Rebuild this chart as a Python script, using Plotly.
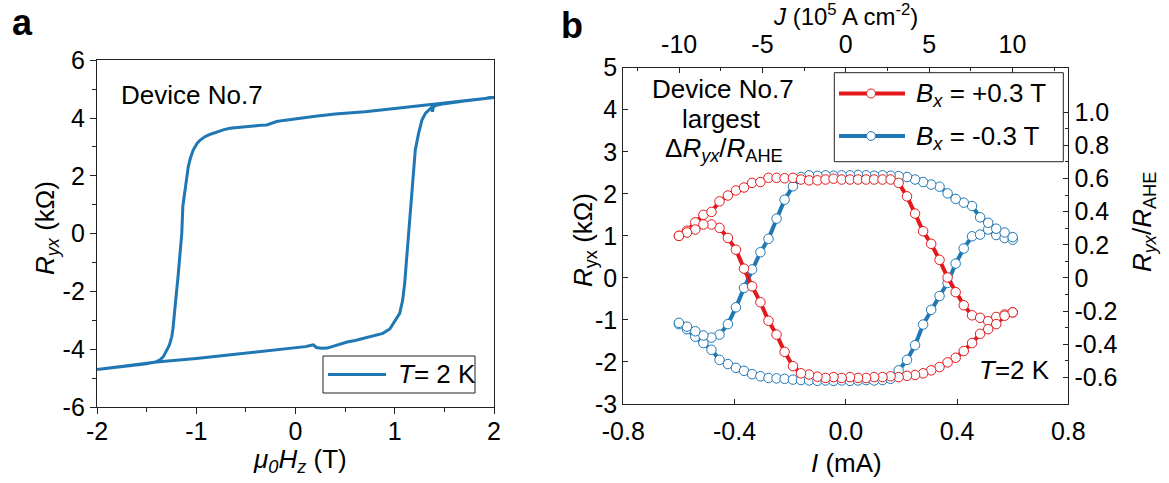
import plotly.graph_objects as go

# ---------------- data ----------------
# Panel a: anomalous Hall loop, R_yx (kOhm) vs mu0*Hz (T)
H_down = [2.0, 1.8, 1.5, 1.2, 1.0, 0.7, 0.4, 0.2, 0.0, -0.05,
          -0.12, -0.19, -0.25, -0.29, -0.35, -0.42, -0.5, -0.58, -0.66, -0.72,
          -0.79, -0.85, -0.91, -0.96, -0.99, -1.03, -1.06, -1.08, -1.095, -1.106,
          -1.12, -1.13, -1.135, -1.146, -1.16, -1.17, -1.185, -1.197, -1.21, -1.22,
          -1.235, -1.247, -1.27, -1.297, -1.33, -1.365, -1.40, -1.5, -1.7, -2.0]
R_down = [4.71, 4.63, 4.52, 4.40, 4.33, 4.22, 4.14, 4.06, 3.98, 3.97,
          3.92, 3.88, 3.80, 3.76, 3.75, 3.73, 3.70, 3.68, 3.65, 3.60,
          3.53, 3.45, 3.36, 3.24, 3.13, 2.90, 2.60, 2.32, 1.95, 1.63,
          1.20, 0.99, 0.95, 0.00, -0.60, -1.14, -1.55, -1.95, -2.45, -2.87,
          -3.30, -3.57, -3.85, -4.03, -4.25, -4.37, -4.43, -4.50, -4.58, -4.70]
H_up = [-2.0, -1.7, -1.4, -1.0, -0.5, -0.2, 0.0, 0.1, 0.15, 0.18,
        0.21, 0.26, 0.32, 0.38, 0.45, 0.52, 0.6, 0.7, 0.8, 0.88,
        0.95, 1.0, 1.05, 1.08, 1.10, 1.116, 1.14, 1.163, 1.183, 1.207,
        1.24, 1.274, 1.31, 1.36, 1.37, 1.38, 1.39, 1.42, 1.5, 1.7, 2.0]
R_up = [-4.70, -4.57, -4.44, -4.32, -4.14, -4.04, -3.97, -3.91, -3.87, -3.85,
        -3.94, -3.97, -3.96, -3.90, -3.82, -3.75, -3.70, -3.62, -3.53, -3.45,
        -3.30, -3.05, -2.76, -2.30, -1.72, -1.03, 0.00, 1.17, 2.09, 2.90,
        3.47, 3.93, 4.17, 4.34, 4.36, 4.22, 4.40, 4.44, 4.50, 4.59, 4.71]

# Panel b: current-induced switching, R_yx (kOhm) vs I (mA)
I_sweep = [-0.600, -0.571, -0.541, -0.512, -0.483, -0.454, -0.424, -0.395, -0.366, -0.337,
           -0.307, -0.278, -0.249, -0.220, -0.190, -0.161, -0.132, -0.102, -0.073, -0.044,
           -0.015, 0.015, 0.044, 0.073, 0.102, 0.132, 0.161, 0.190, 0.220, 0.249,
           0.278, 0.307, 0.337, 0.366, 0.395, 0.424, 0.454, 0.483, 0.512, 0.541,
           0.571, 0.600]
# Bx = +0.3 T: sweep -0.6 -> +0.6, then +0.6 -> -0.6
red_up = [1.00, 1.12, 1.32, 1.50, 1.57, 1.82, 1.96, 2.08, 2.15, 2.26,
          2.28, 2.38, 2.38, 2.37, 2.38, 2.34, 2.32, 2.32, 2.34, 2.36,
          2.34, 2.34, 2.34, 2.34, 2.34, 2.34, 2.34, 2.26, 1.94, 1.53,
          1.11, 0.81, 0.43, 0.01, -0.34, -0.65, -0.89, -0.95, -1.03, -0.93,
          -0.87, -0.82]
red_down = [-0.82, -0.90, -1.10, -1.22, -1.33, -1.55, -1.74, -1.90, -2.01, -2.12,
            -2.20, -2.27, -2.31, -2.33, -2.36, -2.34, -2.36, -2.36, -2.38, -2.38,
            -2.36, -2.38, -2.36, -2.38, -2.35, -2.30, -2.27, -2.10, -1.76, -1.35,
            -1.02, -0.58, -0.20, 0.22, 0.67, 0.95, 1.19, 1.27, 1.27, 1.15,
            1.08, 1.00]
# Bx = -0.3 T
blue_up = [-1.10, -1.22, -1.40, -1.55, -1.71, -1.95, -2.05, -2.14, -2.21, -2.29,
           -2.34, -2.38, -2.39, -2.40, -2.42, -2.43, -2.44, -2.45, -2.44, -2.45,
           -2.44, -2.45, -2.44, -2.43, -2.44, -2.43, -2.40, -2.20, -1.95, -1.60,
           -1.11, -0.76, -0.43, -0.12, 0.34, 0.70, 0.99, 1.03, 1.15, 1.02,
           0.95, 0.91]
blue_down = [0.97, 1.08, 1.17, 1.31, 1.44, 1.71, 1.79, 1.88, 2.01, 2.17,
             2.22, 2.28, 2.34, 2.40, 2.42, 2.43, 2.44, 2.43, 2.44, 2.45,
             2.44, 2.44, 2.43, 2.44, 2.43, 2.44, 2.40, 2.18, 1.86, 1.41,
             0.93, 0.61, 0.20, -0.24, -0.70, -1.10, -1.35, -1.42, -1.37, -1.27,
             -1.16, -1.07]

R_AHE = 3.94        # kOhm, normalisation for the right axis
J_PER_MA = 16.69    # 1e5 A cm^-2 per mA, for the top axis

a_xticks = [-2, -1, 0, 1, 2]
a_xtext = ["-2", "-1", "0", "1", "2"]
a_yticks = [-6, -4, -2, 0, 2, 4, 6]
a_ytext = ["-6", "-4", "-2", "0", "2", "4", "6"]
b_xticks = [-0.8, -0.4, 0.0, 0.4, 0.8]
b_xtext = ["-0.8", "-0.4", "0.0", "0.4", "0.8"]
b_yticks = [-3, -2, -1, 0, 1, 2, 3, 4, 5]
b_ytext = ["-3", "-2", "-1", "0", "1", "2", "3", "4", "5"]
j_ticks = [-10, -5, 0, 5, 10]
j_text = ["-10", "-5", "0", "5", "10"]
n_ticks = [-0.6, -0.4, -0.2, 0.0, 0.2, 0.4, 0.6, 0.8, 1.0]
n_text = ["-0.6", "-0.4", "-0.2", "0", "0.2", "0.4", "0.6", "0.8", "1.0"]

# ---------------- styling ----------------
W, H = 1169, 483
FONT = "Liberation Sans, Arial, sans-serif"
BLUE = "#1f77b4"
RED = "#e3191c"
AX = "#222222"
TICK_FS = 25
LABEL_FS = 26


def fx(x):
    return x / W


def fy(y):
    return 1 - y / H


fig = go.Figure()

fig.add_trace(go.Scatter(
    x=H_down + H_up, y=R_down + R_up, mode="lines",
    line=dict(color=BLUE, width=3), xaxis="x", yaxis="y",
    showlegend=False, hoverinfo="skip"))

for up, down, col in [(blue_up, blue_down, BLUE), (red_up, red_down, RED)]:
    fig.add_trace(go.Scatter(
        x=I_sweep + I_sweep[::-1], y=up + down, mode="lines+markers",
        line=dict(color=col, width=4),
        marker=dict(symbol="circle", size=9.5, color="white",
                    line=dict(color=col, width=1)),
        xaxis="x2", yaxis="y2", showlegend=False, hoverinfo="skip"))

# carrier for the top (J) and right (R/R_AHE) axes
fig.add_trace(go.Scatter(x=[None], y=[None], xaxis="x3", yaxis="y3",
                         showlegend=False, hoverinfo="skip"))

tickfont = dict(family=FONT, size=TICK_FS, color="black")
common = dict(showgrid=False, zeroline=False, showline=True, linecolor=AX,
              linewidth=1.3, tickcolor=AX, tickwidth=1.3, tickfont=tickfont,
              tickmode="array", automargin=False)

fig.update_layout(
    template="none",
    width=W, height=H, margin=dict(l=0, r=0, t=0, b=0, pad=0),
    paper_bgcolor="white", plot_bgcolor="white", showlegend=False,
    font=dict(family=FONT, color="black"),
    xaxis=dict(common, domain=[fx(97), fx(494)], range=[-2, 2], anchor="y",
               tickvals=a_xticks, ticktext=a_xtext, ticks="outside", ticklen=6,
               mirror=True, ticklabelstandoff=-4,
               minor=dict(tickvals=[-1.5, -0.5, 0.5, 1.5], ticks="outside",
                          ticklen=4, tickcolor=AX, tickwidth=1.3)),
    yaxis=dict(common, domain=[fy(407), fy(60.3)], range=[-6, 6], anchor="x",
               tickvals=a_yticks, ticktext=a_ytext, ticks="outside", ticklen=6,
               mirror=True,
               minor=dict(tickvals=[-5, -3, -1, 1, 3, 5], ticks="outside",
                          ticklen=4, tickcolor=AX, tickwidth=1.3)),
    xaxis2=dict(common, domain=[fx(623.3), fx(1068.3)], range=[-0.8, 0.8],
                anchor="y2", tickvals=b_xticks, ticktext=b_xtext,
                ticks="inside", ticklen=5, ticklabelstandoff=5),
    yaxis2=dict(common, domain=[fy(404), fy(67.7)], range=[-3, 5],
                anchor="x2", tickvals=b_yticks, ticktext=b_ytext,
                ticks="inside", ticklen=5),
    xaxis3=dict(common, overlaying="x2", side="top", anchor="y2",
                range=[-0.8 * J_PER_MA, 0.8 * J_PER_MA],
                tickvals=j_ticks, ticktext=j_text, ticks="inside", ticklen=5,
                ticklabelstandoff=4,
                minor=dict(tickvals=[-12.5, -7.5, -2.5, 2.5, 7.5, 12.5],
                           ticks="inside", ticklen=3, tickcolor=AX, tickwidth=1.3)),
    yaxis3=dict(common, overlaying="y2", side="right", anchor="x2",
                range=[-3 / R_AHE, 5 / R_AHE],
                tickvals=n_ticks, ticktext=n_text, ticks="inside", ticklen=5,
                minor=dict(tickvals=[-0.5, -0.3, -0.1, 0.1, 0.3, 0.5, 0.7, 0.9],
                           ticks="inside", ticklen=3, tickcolor=AX, tickwidth=1.3)),
)

ann = []


def text(x, y, s, size=LABEL_FS, angle=0, xanchor="center", bold=False):
    ann.append(dict(x=fx(x), y=fy(y), xref="paper", yref="paper", text=s,
                    showarrow=False, textangle=angle, xanchor=xanchor,
                    yanchor="middle",
                    font=dict(family=FONT, size=size, color="black",
                              weight="bold" if bold else "normal")))


# panel letters
text(22, 22, "a", size=36, bold=True)
text(572, 26, "b", size=36, bold=True)

# axis titles
text(300, 460, "<i>μ</i><sub><i>0</i></sub><i>H</i><sub><i>z</i></sub> (T)")
text(46, 228, "<i>R</i><sub><i>yx</i></sub> (kΩ)", angle=-90)
text(846, 463, "<i>I</i> (mA)")
text(584, 240, "<i>R</i><sub>yx</sub> (kΩ)", angle=-90)
text(1143, 222, "<i>R</i><sub><i>yx</i></sub>/<i>R</i><sub>AHE</sub>", angle=-90)
text(845, 15, "<i>J</i> (10<sup>5</sup> A cm<sup>-2</sup>)", size=24)

# in-plot labels
text(192, 95, "Device No.7")
text(723, 89, "Device No.7")
text(721, 119, "largest")
text(724, 150, "Δ<i>R</i><sub><i>yx</i></sub>/<i>R</i><sub>AHE</sub>")
text(1014, 370, "<i>T</i>=2 K")

# legend for panel a
shapes = [
    dict(type="rect", xref="paper", yref="paper", x0=fx(323), x1=fx(475),
         y0=fy(393), y1=fy(356), line=dict(color=AX, width=1), fillcolor="white"),
    dict(type="line", xref="paper", yref="paper", x0=fx(328), x1=fx(386),
         y0=fy(374.5), y1=fy(374.5), line=dict(color=BLUE, width=3)),
]
text(396, 374, "<i>T</i>= 2 K", xanchor="left")

# legend for panel b
shapes.append(dict(type="rect", xref="paper", yref="paper", x0=fx(834.3),
                   x1=fx(1063.3), y0=fy(161.7), y1=fy(72.7),
                   line=dict(color=AX, width=1), fillcolor="white"))
for yrow, col, lab in [(93.5, RED, "<i>B</i><sub><i>x</i></sub> = +0.3 T"),
                       (136.0, BLUE, "<i>B</i><sub><i>x</i></sub> = -0.3 T")]:
    shapes.append(dict(type="line", xref="paper", yref="paper", x0=fx(839),
                       x1=fx(905), y0=fy(yrow), y1=fy(yrow),
                       line=dict(color=col, width=4)))
    shapes.append(dict(type="circle", xref="paper", yref="paper",
                       x0=fx(871 - 4.5), x1=fx(871 + 4.5),
                       y0=fy(yrow + 4.5), y1=fy(yrow - 4.5),
                       line=dict(color=col, width=1), fillcolor="white"))
    text(914, yrow + 1, lab, xanchor="left")

fig.update_layout(annotations=ann, shapes=shapes)
fig.write_html("out.html")
